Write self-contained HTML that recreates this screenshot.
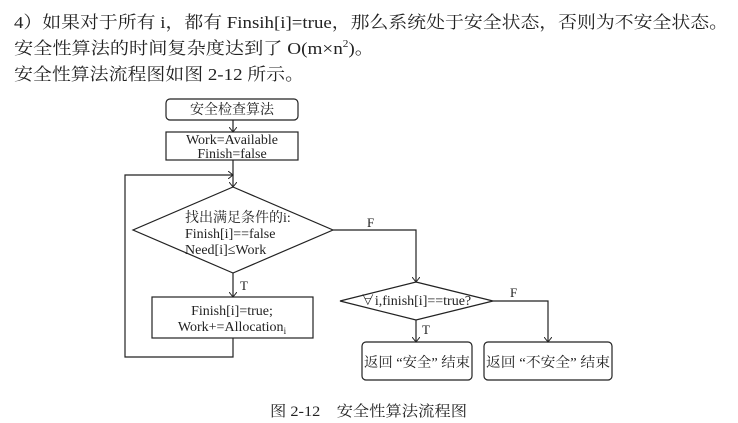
<!DOCTYPE html>
<html><head><meta charset="utf-8"><style>
html,body{margin:0;padding:0;background:#fff}
svg{display:block}
text{font-family:"Liberation Serif","Noto Serif CJK SC",serif;fill:#222}
</style></head><body>
<svg width="738" height="423" viewBox="0 0 738 423" xmlns="http://www.w3.org/2000/svg">
<defs><marker id="a" markerWidth="6" markerHeight="8" refX="5" refY="4" orient="auto" markerUnits="userSpaceOnUse"><path d="M0,0 L5,4 L0,8" fill="none" stroke="#222" stroke-width="1"/></marker></defs>
<text x="14" y="28" font-size="17" textLength="714" lengthAdjust="spacingAndGlyphs">4）如果对于所有 i，都有 Finsih[i]=true，那么系统处于安全状态，否则为不安全状态。</text>
<text x="14" y="54" font-size="17" textLength="360" lengthAdjust="spacingAndGlyphs">安全性算法的时间复杂度达到了 O(m×n<tspan font-size="10" dy="-7">2</tspan><tspan dy="7">)。</tspan></text>
<text x="14" y="80" font-size="17" textLength="290" lengthAdjust="spacingAndGlyphs">安全性算法流程图如图 2-12 所示。</text>
<g stroke="#222" stroke-width="1.2" fill="none">
<rect x="166" y="99" width="132" height="21" rx="4"/>
<rect x="166" y="132" width="132" height="28"/>
<polygon points="233,187 333,230 233,273 133,230"/>
<rect x="152" y="297" width="161" height="41"/>
<polygon points="416,282 493,301 416,320 340,301"/>
<rect x="362" y="342" width="110" height="38" rx="4"/>
<rect x="484" y="342" width="128" height="38" rx="4"/>
<line x1="233" y1="120" x2="233" y2="132" marker-end="url(#a)"/>
<line x1="233" y1="160" x2="233" y2="187" marker-end="url(#a)"/>
<line x1="233" y1="273" x2="233" y2="297" marker-end="url(#a)"/>
<polyline points="233,338 233,357 125,357 125,175 233,175" marker-end="url(#a)"/>
<polyline points="333,230 416,230 416,282" marker-end="url(#a)"/>
<line x1="416" y1="320" x2="416" y2="342" marker-end="url(#a)"/>
<polyline points="493,301 548,301 548,342" marker-end="url(#a)"/>
</g>
<g font-size="14" text-anchor="middle">
<text x="232" y="114">安全检查算法</text>
<text x="232" y="144">Work=Available</text>
<text x="232" y="158">Finish=false</text>
<text x="232" y="315">Finish[i]=true;</text>
<text x="232" y="331">Work+=Allocation<tspan font-size="9" dy="3">i</tspan></text>
<text x="416" y="305">∀i,finish[i]==true?</text>
<text x="417" y="367" textLength="106" lengthAdjust="spacingAndGlyphs">返回 “安全” 结束</text>
<text x="548" y="367" textLength="124" lengthAdjust="spacingAndGlyphs">返回 “不安全” 结束</text>
</g>
<g font-size="14">
<text x="185" y="222">找出满足条件的i:</text>
<text x="185" y="238">Finish[i]==false</text>
<text x="185" y="254">Need[i]≤Work</text>
</g>
<g font-size="13">
<text x="367" y="227">F</text>
<text x="240" y="290">T</text>
<text x="422" y="334">T</text>
<text x="510" y="297">F</text>
</g>
<text x="270" y="416" font-size="15" textLength="197" lengthAdjust="spacingAndGlyphs">图 2-12　安全性算法流程图</text>
</svg>
</body></html>
